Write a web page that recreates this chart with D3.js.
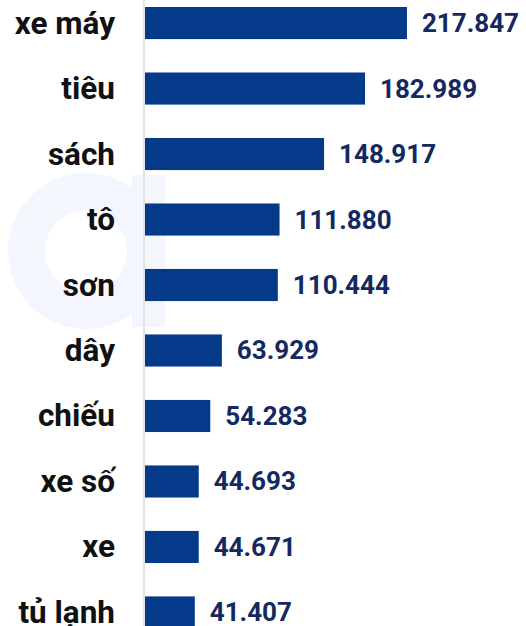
<!DOCTYPE html>
<html>
<head>
<meta charset="utf-8">
<script src="https://cdn.jsdelivr.net/npm/d3@7"></script>
<style>
  html, body { margin: 0; padding: 0; background: #fff; }
  svg { display: block; }
</style>
</head>
<body>
<svg id="chart" width="526" height="626"></svg>
<script>
// dữ liệu
const categories = ['xe máy', 'tiêu', 'sách', 'tô', 'sơn', 'dây', 'chiếu', 'xe số', 'xe', 'tủ lạnh']
const values = [217847, 182989, 148917, 111880, 110444, 63929, 54283, 44693, 44671, 41407]

const data = categories.map((name, i) => ({ name: name, value: values[i] }))

const svg = d3.select('#chart')
const width = 526
const height = 626

const axisX = 145

// định dạng số kiểu Việt Nam: 217.847
const vn = d3.formatLocale({ decimal: ',', thousands: '.', grouping: [3], currency: ['', '₫'] })
const fmt = vn.format(',d')

const x = d3.scaleLinear().domain([0, 250000]).range([axisX, axisX + 250 * 1.2025])
const y = d3.scaleBand().domain(categories).range([7, 628.5]).paddingInner(0.51).paddingOuter(0)

// logo mờ phía sau
const mark = svg.append('g').attr('fill', '#f3f6fc')
mark.append('path')
    .attr('d', d3.arc()({ innerRadius: 41, outerRadius: 78, startAngle: 0, endAngle: 2 * Math.PI }))
    .attr('transform', 'translate(86,251)')
mark.append('rect').attr('x', 132).attr('y', 175).attr('width', 33).attr('height', 152)

// trục dọc
svg.append('line')
    .attr('x1', axisX - 1).attr('x2', axisX - 1)
    .attr('y1', 0).attr('y2', height)
    .attr('stroke', '#d9d9d9')
    .attr('stroke-width', 1.5)

// các thanh
svg.append('g')
    .selectAll('rect')
    .data(data)
    .join('rect')
    .attr('x', x(0))
    .attr('y', (d) => y(d.name))
    .attr('width', (d) => x(d.value) - x(0))
    .attr('height', y.bandwidth())
    .attr('fill', '#053a8b')

// nhãn danh mục
svg.append('g')
    .selectAll('text')
    .data(data)
    .join('text')
    .attr('x', 115)
    .attr('y', (d) => y(d.name) + y.bandwidth() / 2 + 10.5)
    .attr('text-anchor', 'end')
    .attr('font-family', 'Roboto')
    .attr('font-weight', 'bold')
    .attr('font-size', '31.5px')
    .attr('fill', '#111')
    .text((d) => d.name)

// giá trị
svg.append('g')
    .selectAll('text')
    .data(data)
    .join('text')
    .attr('x', (d) => x(d.value) + 15)
    .attr('y', (d) => y(d.name) + y.bandwidth() / 2 + 9)
    .attr('font-family', 'Roboto')
    .attr('font-weight', 'bold')
    .attr('font-size', '26px')
    .attr('fill', '#14295f')
    .text((d) => fmt(d.value))
</script>
</body>
</html>
